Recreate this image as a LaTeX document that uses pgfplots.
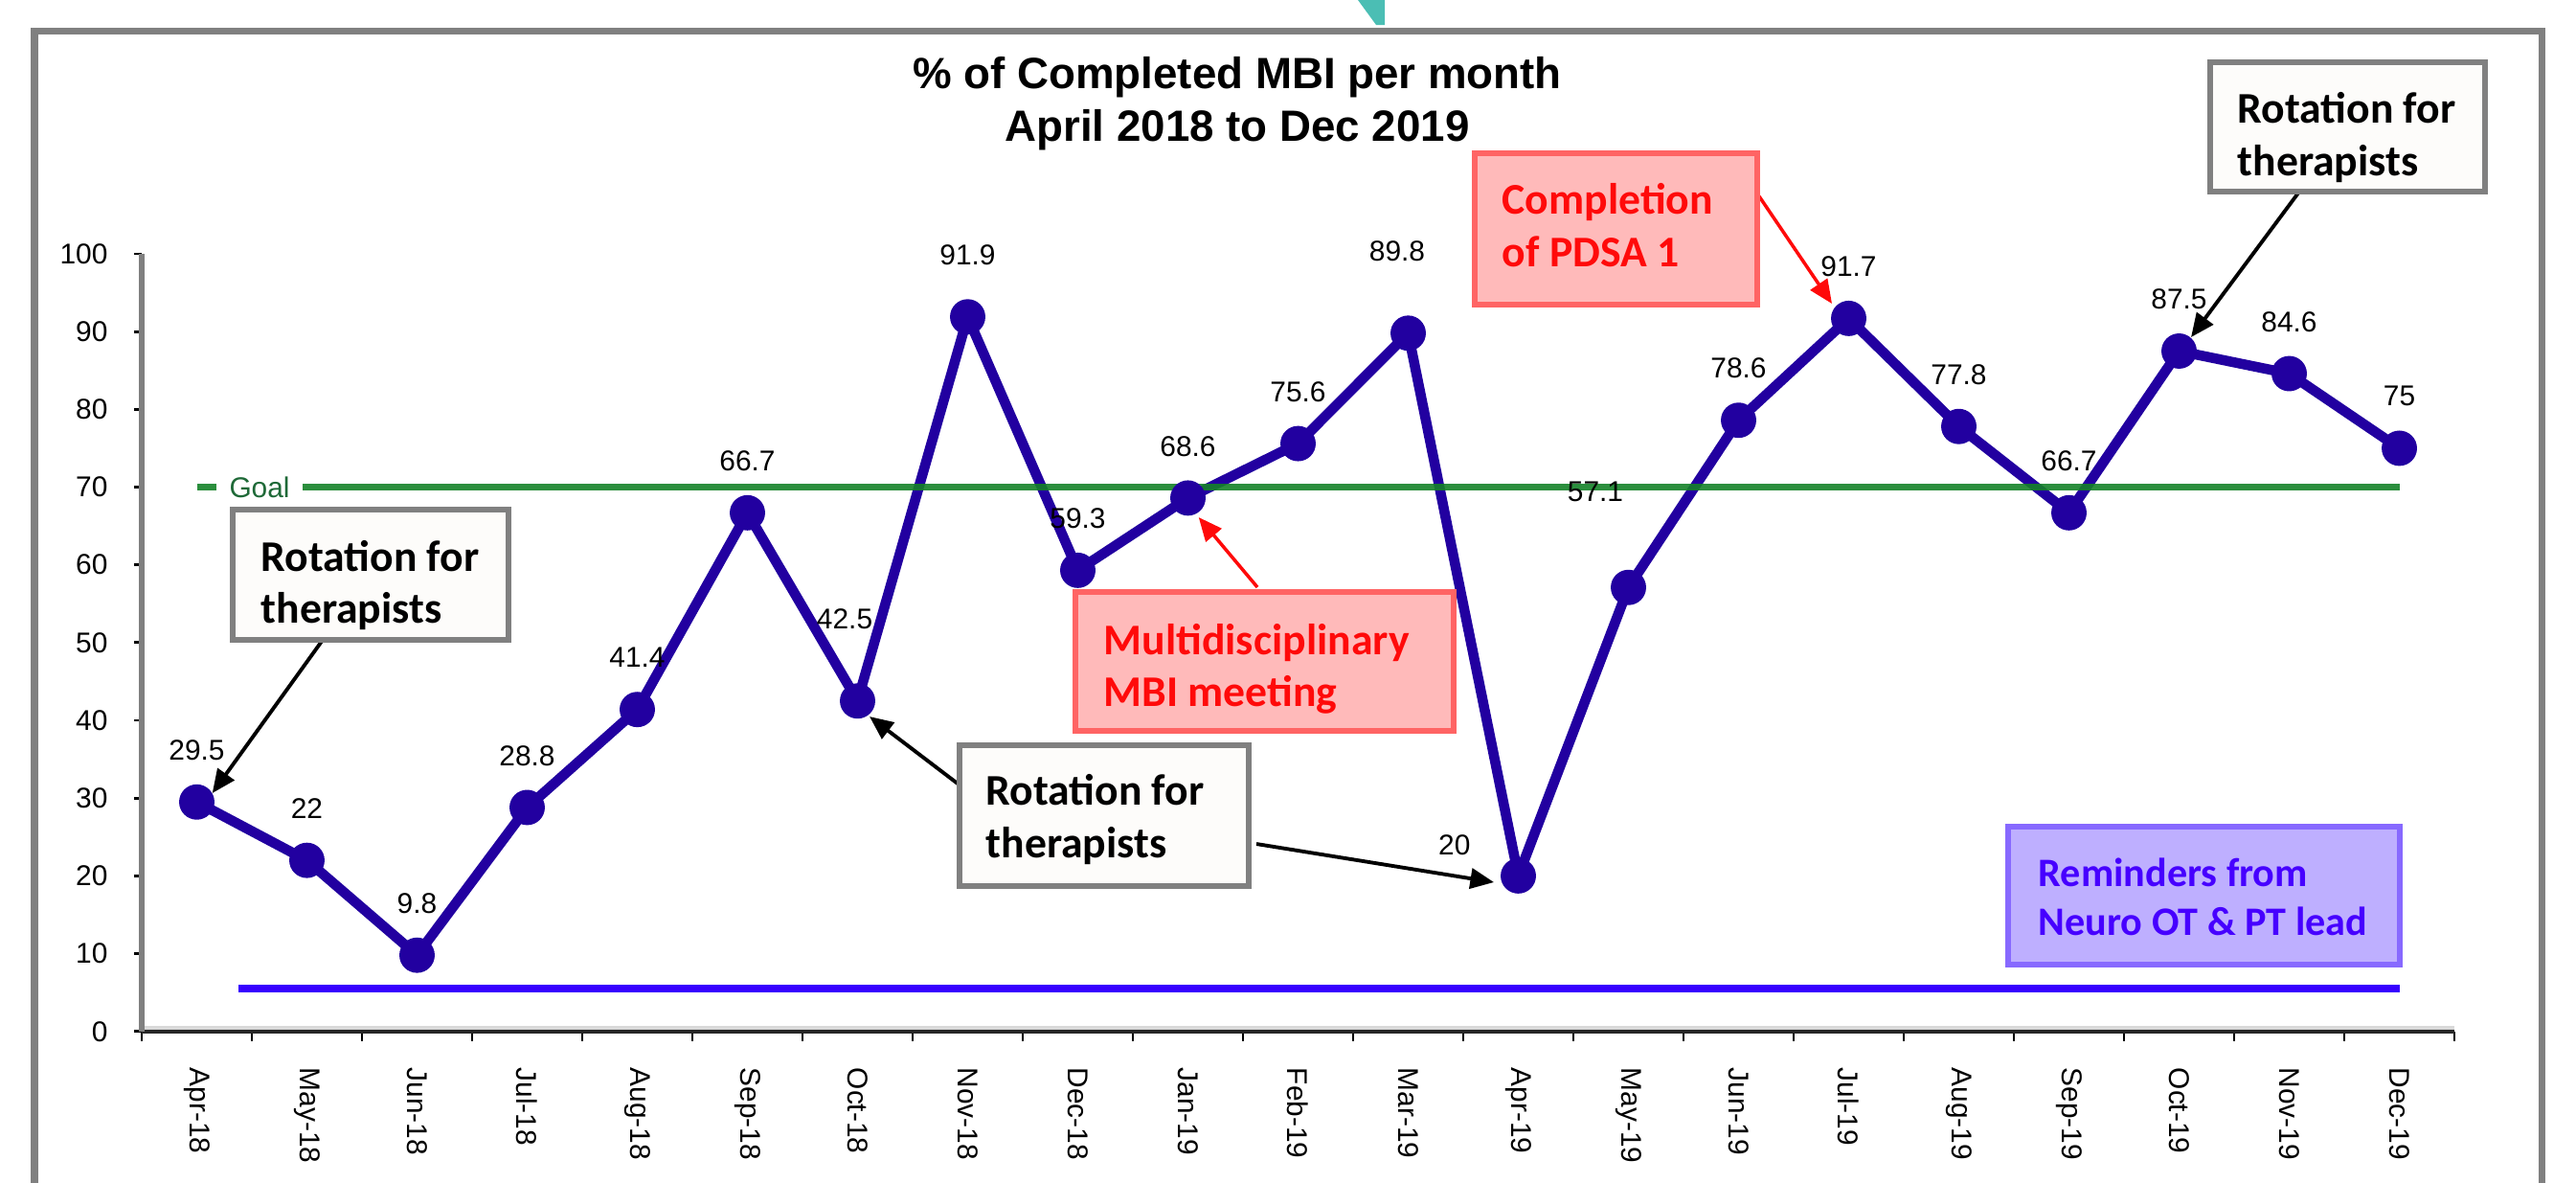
\documentclass[border=0pt]{standalone}
\usepackage{fontspec}
\setmainfont{Liberation Sans}
\newfontfamily\calibri{Carlito}
\usepackage{pgfplots}
\usepackage{pgfplotstable}
\pgfplotsset{compat=1.18}
\usetikzlibrary{arrows.meta}
\definecolor{navy}{RGB}{34,0,160}
\definecolor{goalgreen}{RGB}{20,130,40}
\definecolor{goaltext}{RGB}{30,105,55}
\definecolor{remblue}{RGB}{55,0,255}
\definecolor{framegray}{RGB}{128,128,128}
\definecolor{redfill}{RGB}{255,186,186}
\definecolor{redborder}{RGB}{255,100,100}
\definecolor{redtext}{RGB}{255,10,10}
\definecolor{bluefill}{RGB}{190,175,255}
\definecolor{blueborder}{RGB}{135,105,255}
\definecolor{bluetext}{RGB}{70,0,255}
\definecolor{teal}{RGB}{75,190,180}
\definecolor{boxfill}{RGB}{253,252,250}

\pgfplotstableread{
x y lab
0 29.5 29.5
1 22 22
2 9.8 9.8
3 28.8 28.8
4 41.4 41.4
5 66.7 66.7
6 42.5 {}
7 91.9 {}
8 59.3 59.3
9 68.6 68.6
10 75.6 75.6
11 89.8 {}
12 20 {}
13 57.1 {}
14 78.6 78.6
15 91.7 91.7
16 77.8 77.8
17 66.7 66.7
18 87.5 87.5
19 84.6 84.6
20 75 75
}\mbidata

\begin{document}
\begin{tikzpicture}
\path[use as bounding box] (0,0) rectangle (269mm,-123.4mm);
\begin{scope}[x=0.1mm,y=-0.1mm]
  % outer frame
  \draw[framegray, line width=2pt] (36,32) rectangle (2654,1400);
  % teal fragment at top
  \fill[teal] (1418,0) -- (1446,0) -- (1446,26) -- (1437,26) -- cycle;
  % title
  \node[anchor=base, inner sep=0, font=\fontsize{13}{15.6}\selectfont\bfseries] at (1292,92) {\% of Completed MBI per month};
  \node[anchor=base, inner sep=0, font=\fontsize{13}{15.6}\selectfont\bfseries] at (1292,147) {April 2018 to Dec 2019};
  % light band above x axis
  \draw[black!15, line width=0.9pt] (148,1073) -- (2563,1073);
\end{scope}

\begin{axis}[
  at={(14.8mm,-107.67mm)}, anchor=south west,
  scale only axis, width=241.5mm, height=81.17mm,
  xmin=-0.5, xmax=20.5, ymin=0, ymax=100,
  clip=false,
  axis x line*=bottom, axis y line*=left,
  x axis line style={draw=black!85, line width=1.1pt},
  y axis line style={draw=framegray, line width=1.8pt},
  tick align=outside,
  major tick length=2.3pt, minor tick length=2.8pt,
  ytick={0,10,...,100},
  y tick style={black, line width=0.8pt},
  xtick={0,...,20},
  major x tick style={draw=none},
  minor xtick={-0.5,0.5,...,20.5},
  minor x tick style={black, line width=0.8pt},
  xticklabels={Apr-18,May-18,Jun-18,Jul-18,Aug-18,Sep-18,Oct-18,Nov-18,Dec-18,Jan-19,Feb-19,Mar-19,Apr-19,May-19,Jun-19,Jul-19,Aug-19,Sep-19,Oct-19,Nov-19,Dec-19},
  xticklabel style={rotate=-90, anchor=west},
  xticklabel shift=5pt,
  yticklabel shift=4.3pt,
  tick label style={font=\fontsize{8.5}{10}\selectfont},
  /pgf/number format/assume math mode=true,
]
  % reminders line
  \addplot[remblue, line width=2.1pt, no marks] coordinates {(0.38,5.5) (20,5.5)};
  % data
  \addplot[navy, line width=3pt, mark=*, mark size=5pt,
    mark options={solid, fill=navy, draw=navy, line width=0.5pt},
    nodes near coords, point meta=explicit symbolic,
    every node near coord/.append style={anchor=center, yshift=15.4pt, inner sep=0pt, text=black, font=\fontsize{8.5}{10}\selectfont}]
    table[x=x, y=y, meta=lab] {\mbidata};
  % goal line
  \addplot[goalgreen, line width=1.8pt, opacity=0.9, no marks] coordinates {(0,70) (20,70)};
  \node[fill=white, text=goaltext, inner xsep=3.7pt, inner ysep=1pt, font=\fontsize{8.5}{10}\selectfont] at (axis cs:0.57,70) {Goal};
  % manually placed data labels
  \node[font=\fontsize{8.5}{10}\selectfont, inner sep=0pt] at (axis cs:5.883,53.06) {42.5};
  \node[font=\fontsize{8.5}{10}\selectfont, inner sep=0pt] at (axis cs:7.0,99.9) {91.9};
  \node[font=\fontsize{8.5}{10}\selectfont, inner sep=0pt] at (axis cs:10.9,100.3) {89.8};
  \node[font=\fontsize{8.5}{10}\selectfont, inner sep=0pt] at (axis cs:11.42,24.0) {20};
  \node[font=\fontsize{8.5}{10}\selectfont, inner sep=0pt] at (axis cs:12.70,69.4) {57.1};
\end{axis}

\begin{scope}[x=0.1mm,y=-0.1mm, every node/.style={inner sep=0pt, anchor=base west}]
  \tikzset{arr/.style={line width=1.1pt, -{Triangle[length=7pt,width=6pt]}}}
  % Box A
  \draw[arr, black] (337,668) -- (221.7,828);
  \draw[framegray, fill=boxfill, line width=1.6pt] (243,532) rectangle (531,668);
  \node[font=\calibri\fontsize{13}{15.4}\selectfont\bfseries] at (272,596.7) {Rotation for};
  \node[font=\calibri\fontsize{13}{15.4}\selectfont\bfseries] at (272,650.7) {therapists};
  % Box B
  \draw[arr, black] (1000,818) -- (908,748);
  \draw[arr, black] (1312,881) -- (1560,921);
  \draw[framegray, fill=boxfill, line width=1.6pt] (1002,778) rectangle (1304,925);
  \node[font=\calibri\fontsize{13}{15.4}\selectfont\bfseries] at (1029,840) {Rotation for};
  \node[font=\calibri\fontsize{13}{15.4}\selectfont\bfseries] at (1029,895) {therapists};
  % Box C
  \draw[arr, redtext, line width=1pt] (1313,613) -- (1251.7,540);
  \draw[redborder, fill=redfill, line width=1.6pt] (1123,618) rectangle (1518,763);
  \node[text=redtext, font=\calibri\fontsize{13}{15.4}\selectfont\bfseries] at (1152,683.3) {Multidisciplinary};
  \node[text=redtext, font=\calibri\fontsize{13}{15.4}\selectfont\bfseries] at (1152,737.7) {MBI meeting};
  % Box D
  \draw[arr, redtext, line width=1pt] (1837,205) -- (1913,317);
  \draw[redborder, fill=redfill, line width=1.6pt] (1540,160) rectangle (1835,318);
  \node[text=redtext, font=\calibri\fontsize{13}{15.4}\selectfont\bfseries] at (1568,223.3) {Completion};
  \node[text=redtext, font=\calibri\fontsize{13}{15.4}\selectfont\bfseries] at (1568,278.3) {of PDSA 1};
  % Box E
  \draw[arr, black] (2401,200) -- (2288,352);
  \draw[framegray, fill=boxfill, line width=1.6pt] (2308,65) rectangle (2595,200);
  \node[font=\calibri\fontsize{13}{15.4}\selectfont\bfseries] at (2336,128.3) {Rotation for};
  \node[font=\calibri\fontsize{13}{15.4}\selectfont\bfseries] at (2336,183.3) {therapists};
  % Box F
  \draw[blueborder, fill=bluefill, line width=1.5pt] (2097,863) rectangle (2506,1007);
  \node[text=bluetext, font=\calibri\fontsize{12}{14.5}\selectfont\bfseries] at (2128,925) {Reminders from};
  \node[text=bluetext, font=\calibri\fontsize{12}{14.5}\selectfont\bfseries] at (2128,976) {Neuro OT \& PT lead};
\end{scope}
\end{tikzpicture}
\end{document}
